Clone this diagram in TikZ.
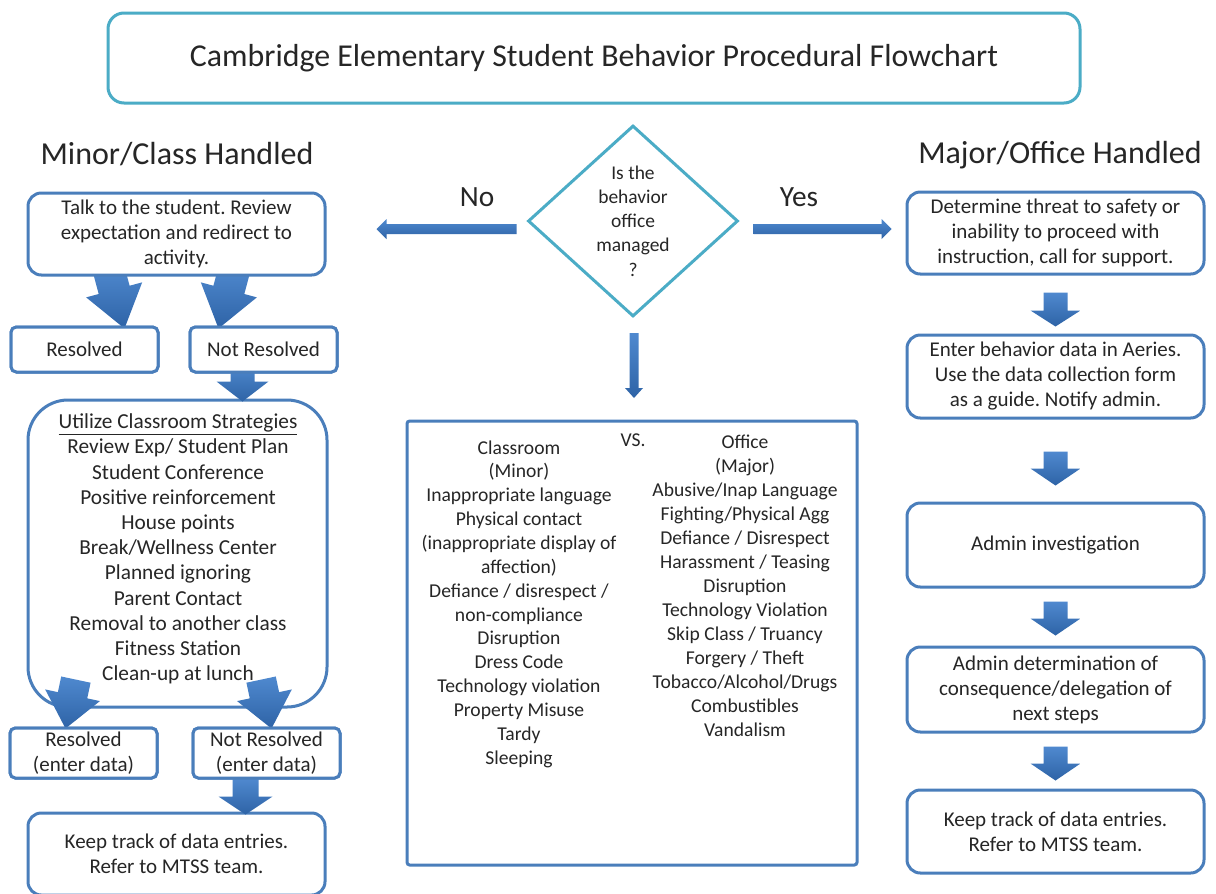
\documentclass[tikz,border=0pt]{standalone}
\usepackage{fontspec}
\setmainfont{Carlito}
\frenchspacing
\usetikzlibrary{shapes.geometric,calc}
\definecolor{boxblue}{HTML}{4A7EBB}
\definecolor{tealc}{HTML}{4BACC6}
\definecolor{arrowtop}{HTML}{4F89CF}
\definecolor{arrowbot}{HTML}{2E63A6}
\definecolor{txt}{HTML}{262626}
\tikzset{
  box/.style={draw=boxblue, line width=2.25pt, rounded corners=10pt, fill=white, align=center, text=txt,
    font=\fontsize{15.75}{18.75}\selectfont, inner sep=0pt},
  sbox/.style={box, rounded corners=4pt},
  tbox/.style={draw=tealc, line width=2.25pt, rounded corners=12pt, fill=white, align=center, text=txt, inner sep=0pt},
  lbl/.style={text=txt, align=center, inner sep=0pt},
  arrowshade/.style={top color=arrowtop, bottom color=arrowbot, draw=none},
}
% tip, angle, length, shaft width, head width, head length
\newcommand{\blockarr}[6]{%
  \begin{scope}[shift={#1}, rotate=#2]
    \shade[arrowshade] (0,0) -- (#5/2,-#6) -- (#4/2,-#6) -- (#4/2,-#3) -- (-#4/2,-#3) -- (-#4/2,-#6) -- (-#5/2,-#6) -- cycle;
  \end{scope}}
\begin{document}
\begin{tikzpicture}[x=0.75pt, y=-0.75pt]
\useasboundingbox (0,0) rectangle (1216,893);
\fill[white] (0,0) rectangle (1216,893);
\clip (0,0) rectangle (1216,893);

% title
\node[tbox, minimum width=729pt, minimum height=67.5pt, font=\fontsize{23.9}{28}\selectfont] (title) at (594,58)
  {Cambridge Elementary Student Behavior Procedural Flowchart};

% headings
\node[lbl, font=\fontsize{24}{28}\selectfont] (minorh) at (177,154) {Minor/Class Handled};
\node[lbl, font=\fontsize{24}{28}\selectfont] (majorh) at (1060,155) {Major/Office Handled};

% decision
\node[diamond, draw=tealc, line width=2.25pt, minimum width=157.5pt, minimum height=143.25pt, inner sep=0pt, fill=white] (q) at (633,221) {};
\node[lbl, font=\fontsize{14.6}{18.2}\selectfont] (qtext) at (q) {Is the\\behavior\\office\\managed\\?};
\node[lbl, font=\fontsize{22}{26}\selectfont] (no) at (477,197) {No};
\node[lbl, font=\fontsize{22}{26}\selectfont] (yes) at (799,197) {Yes};
\blockarr{($(q.west)+(-150,8)$)}{-90}{140}{10}{20}{10}
\blockarr{($(q.east)+(152,8)$)}{90}{138}{10}{20}{10}
\blockarr{($(q.south)+(1,80)$)}{0}{65}{9}{18}{10}

% center comparison box
\node[box, rounded corners=2pt, minimum width=337.5pt, minimum height=333pt] (cbox) at (632,643) {};
\node[lbl, font=\fontsize{14.7}{17.9}\selectfont] (minorlist) at (519,604)
  {Classroom\\(Minor)\\Inappropriate language\\Physical contact\\(inappropriate display of\\affection)\\Defiance / disrespect /\\non-compliance\\Disruption\\Dress Code\\Technology violation\\Property Misuse\\Tardy\\Sleeping};
\node[lbl, font=\fontsize{14.7}{18}\selectfont] (majorlist) at (745,586)
  {Office\\(Major)\\Abusive/Inap Language\\Fighting/Physical Agg\\Defiance / Disrespect\\Harassment / Teasing\\Disruption\\Technology Violation\\Skip Class / Truancy\\Forgery / Theft\\Tobacco/Alcohol/Drugs\\Combustibles\\Vandalism};
\node[lbl, font=\fontsize{14.7}{18}\selectfont] (vs) at (633,440) {VS.};

% left column
\node[box, rounded corners=30pt, minimum width=224.25pt, minimum height=230.25pt] (util) at (177.5,553.5) {};

\node[sbox, minimum width=110.25pt, minimum height=33.75pt] (res1) at (84.5,349.5) {Resolved};
\node[sbox, minimum width=110.25pt, minimum height=33.75pt] (nres1) at (263.5,349.5) {Not Resolved};
\blockarr{($(res1.north)+(40,3)$)}{15}{60}{32}{58}{40}
\blockarr{($(nres1.north)+(-45,3)$)}{-15}{60}{32}{58}{40}
\blockarr{($(nres1.south)+(-21,28)$)}{0}{38}{24}{52}{20}
\node[sbox, minimum width=110.25pt, minimum height=33.75pt] at (res1) {Resolved};
\node[sbox, minimum width=110.25pt, minimum height=33.75pt] at (nres1) {Not Resolved};
\node[box, minimum width=222.75pt, minimum height=61.5pt] (l1) at (176.5,234)
  {Talk to the student. Review\\expectation and redirect to\\activity.};

\node[box, minimum width=222.75pt, minimum height=61.5pt] (lbot) at (176.5,854)
  {Keep track of data entries.\\Refer to MTSS team.};
\node[sbox, minimum width=110.25pt, minimum height=37.5pt] (res2) at (83.5,753) {Resolved\\(enter data)};
\node[sbox, minimum width=110.25pt, minimum height=37.5pt] (nres2) at (266.5,753) {Not Resolved\\(enter data)};
\blockarr{($(res2.north)+(-18,2)$)}{-12}{50}{30}{56}{34}
\blockarr{($(nres2.north)+(5,2)$)}{12}{50}{30}{56}{34}
\blockarr{($(nres2.south)+(-21,35)$)}{0}{36}{26}{54}{18}
\node[sbox, minimum width=110.25pt, minimum height=37.5pt] at (res2) {Resolved\\(enter data)};
\node[sbox, minimum width=110.25pt, minimum height=37.5pt] at (nres2) {Not Resolved\\(enter data)};
\node[lbl, font=\fontsize{16}{18.9}\selectfont] (utiltext) at (178,549)
  {\underline{Utilize Classroom Strategies}\\Review Exp/ Student Plan\\Student Conference\\Positive reinforcement\\House points\\Break/Wellness Center\\Planned ignoring\\Parent Contact\\Removal to another class\\Fitness Station\\Clean-up at lunch};

% right column
\node[box, minimum width=222.75pt, minimum height=61.5pt] (r1) at (1055.5,233)
  {Determine threat to safety or\\inability to proceed with\\instruction, call for support.};
\node[box, minimum width=222.75pt, minimum height=62.25pt] (r2) at (1055.5,376.5)
  {Enter behavior data in Aeries.\\Use the data collection form\\as a guide. Notify admin.};
\node[box, minimum width=222.75pt, minimum height=63pt] (r3) at (1055.5,545)
  {Admin investigation};
\node[box, minimum width=222.75pt, minimum height=63.75pt] (r4) at (1055.5,689.5)
  {Admin determination of\\consequence/delegation of\\next steps};
\node[box, minimum width=222.75pt, minimum height=62.25pt] (r5) at (1055.5,831.5)
  {Keep track of data entries.\\Refer to MTSS team.};
\blockarr{($(r2.north)+(0,-7)$)}{0}{34}{24}{50}{16}
\blockarr{($(r3.north)+(0,-16)$)}{0}{34}{24}{50}{17}
\blockarr{($(r4.north)+(0,-10)$)}{0}{34}{24}{50}{17}
\blockarr{($(r5.north)+(0,-8)$)}{0}{34}{24}{50}{17}
\end{tikzpicture}
\end{document}
